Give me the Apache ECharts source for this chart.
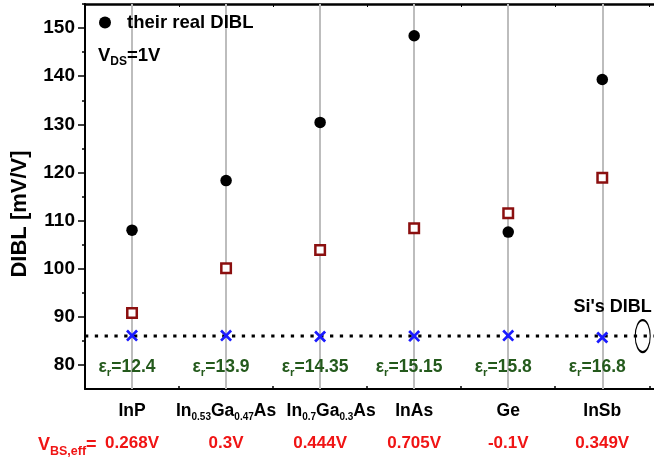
<!DOCTYPE html>
<html>
<head>
<meta charset="utf-8">
<script src="https://cdn.jsdelivr.net/npm/echarts@6/dist/echarts.min.js"></script>
<style>html,body{margin:0;padding:0;background:#fff}#c{width:654px;height:464px}</style>
</head>
<body>
<div id="c"></div>
<script>
const categories = ['InP', 'In0.53Ga0.47As', 'In0.7Ga0.3As', 'InAs', 'Ge', 'InSb'];
const realDibl = [108.0, 118.3, 130.4, 148.4, 107.6, 139.3];
const modelDibl = [90.8, 100.1, 103.9, 108.4, 111.5, 118.9];
const siDiblPoints = [86.1, 86.1, 85.9, 86.0, 86.1, 85.7];
const epsR = ['12.4', '13.9', '14.35', '15.15', '15.8', '16.8'];
const vbsEff = ['0.268V', '0.3V', '0.444V', '0.705V', '-0.1V', '0.349V'];
const siDibl = 86;
const yTicks = [80, 90, 100, 110, 120, 130, 140, 150];
const yMinorTicks = [85, 95, 105, 115, 125, 135, 145, 155];

const FONT = 'Arial, "Liberation Sans", sans-serif';
const xPos = categories.map((c, i) => i + 1);
const xMinor = categories.map((c, i) => i + 1.5);
const richName = n => n.replace(/(\d+(\.\d+)?)/g, '{s|$1}');

const chart = echarts.init(document.getElementById('c'), null, {renderer: 'canvas'});
const XMIN = 0.5, XMAX = 6.55, YMIN = 75, YMAX = 155;
const EPS_ROW = 79.6;

const option = {
  animation: false,
  backgroundColor: '#fff',
  grid: {left: 85, right: 0, top: 4, bottom: 75},
  legend: {
    data: ['their real DIBL'],
    left: 94, top: 8, z: 20,
    icon: 'circle', itemWidth: 12, itemHeight: 12,
    textStyle: {fontFamily: FONT, fontSize: 18.5, fontWeight: 'bold', color: '#000', padding: [0, 0, 0, 11]}
  },
  xAxis: [
    {
      type: 'value', position: 'bottom', min: XMIN, max: XMAX,
      axisLine: {show: true, lineStyle: {color: '#000', width: 2}},
      axisTick: {show: true, inside: true, length: 6, customValues: xPos, lineStyle: {color: '#000', width: 2}},
      splitLine: {show: false},
      axisLabel: {
        show: true, customValues: xPos, margin: 11,
        formatter: v => {
          const i = Math.round(v) - 1;
          const lead = i === 2 ? '{sp|}' : '';
          return lead + '{n|' + richName(categories[i]).replace(/\{s\|([^}]*)\}/g, '}{s|$1}{n|') + '}\n{v|' + vbsEff[i] + '}';
        },
        rich: {
          sp: {width: 22, lineHeight: 22},
          n: {fontFamily: FONT, fontSize: 17.5, fontWeight: 'bold', color: '#000', lineHeight: 22, verticalAlign: 'middle'},
          s: {fontFamily: FONT, fontSize: 10, fontWeight: 'bold', color: '#000', lineHeight: 22, verticalAlign: 'middle', padding: [12, 0, 0, 0]},
          v: {fontFamily: FONT, fontSize: 17, fontWeight: 'bold', color: '#f01414', lineHeight: 42, verticalAlign: 'middle'}
        }
      }
    },
    {
      type: 'value', position: 'bottom', min: XMIN, max: XMAX,
      axisLine: {show: false},
      axisTick: {show: true, inside: true, length: 3, customValues: xMinor, lineStyle: {color: '#000', width: 1.5}},
      axisLabel: {show: false}, splitLine: {show: false}
    },
    {
      type: 'value', position: 'top', min: XMIN, max: XMAX, interval: 0.5,
      axisLine: {show: true, lineStyle: {color: '#000', width: 2.5}},
      axisTick: {show: true, inside: true, length: 3, lineStyle: {color: '#000', width: 1}},
      axisLabel: {show: false}, splitLine: {show: false}
    }
  ],
  yAxis: [
    {
      type: 'value', position: 'left', min: YMIN, max: YMAX,
      axisLine: {show: true, lineStyle: {color: '#000', width: 2}},
      axisTick: {show: true, inside: false, length: 7, customValues: yTicks, lineStyle: {color: '#000', width: 1.5}},
      axisLabel: {show: true, customValues: yTicks, margin: 10, fontFamily: FONT, fontSize: 19, fontWeight: 'bold', color: '#000'},
      splitLine: {show: false}
    },
    {
      type: 'value', position: 'left', min: YMIN, max: YMAX,
      axisLine: {show: false},
      axisTick: {show: true, inside: false, length: 3, customValues: yMinorTicks, lineStyle: {color: '#000', width: 1.5}},
      axisLabel: {show: false}, splitLine: {show: false}
    }
  ],
  graphic: [
    {
      type: 'text', x: 20, y: 214, rotation: Math.PI / 2, z: 20,
      style: {text: 'DIBL [mV/V]', fontFamily: FONT, fontSize: 22, fontWeight: 'bold', fill: '#000', align: 'center', verticalAlign: 'middle'}
    },
    {
      type: 'text', left: 98, top: 43, z: 20,
      style: {
        text: '{a|V}{b|DS}{a|=1V}',
        rich: {
          a: {fontFamily: FONT, fontSize: 18.5, fontWeight: 'bold', fill: '#000', lineHeight: 22, verticalAlign: 'middle'},
          b: {fontFamily: FONT, fontSize: 12, fontWeight: 'bold', fill: '#000', lineHeight: 22, verticalAlign: 'middle', padding: [13, 0, 0, 0]}
        }
      }
    },
    {
      type: 'text', left: 38, top: 432, z: 20,
      style: {
        text: '{a|V}{b|BS,eff}{a|=}',
        rich: {
          a: {fontFamily: FONT, fontSize: 18, fontWeight: 'bold', fill: '#f01414', lineHeight: 22, verticalAlign: 'middle'},
          b: {fontFamily: FONT, fontSize: 12.5, fontWeight: 'bold', fill: '#f01414', lineHeight: 22, verticalAlign: 'middle', padding: [13, 0, 0, 0]}
        }
      }
    }
  ],
  series: [
    {
      name: 'grid', type: 'line', data: [], silent: true, z: 1,
      markLine: {
        silent: true, symbol: ['none', 'none'], animation: false, z: 1,
        label: {show: false},
        lineStyle: {color: '#bdbdbd', type: 'solid', width: 2},
        data: xPos.map(x => ({xAxis: x}))
      }
    },
    {
      name: 'Si', type: 'line', z: 2, symbol: 'none', silent: true,
      data: [[XMIN, siDibl], [XMAX, siDibl]],
      lineStyle: {color: '#000', width: 3, type: [3.3, 6.5]},
      markPoint: {
        symbol: 'circle', symbolSize: [15, 32],
        itemStyle: {color: 'rgba(0,0,0,0)', borderColor: '#000', borderWidth: 1.5},
        label: {
          show: true, position: 'top', distance: 3, offset: [-30, 0],
          formatter: "Si's DIBL", fontFamily: FONT, fontSize: 18, fontWeight: 'bold', color: '#000'
        },
        data: [{coord: [6.43, siDibl]}]
      }
    },
    {
      name: 'crosses', type: 'scatter', z: 5,
      data: siDiblPoints.map((v, i) => [xPos[i], v]),
      symbol: 'path://M0,1.6L1.6,0L5,3.4L8.4,0L10,1.6L6.6,5L10,8.4L8.4,10L5,6.6L1.6,10L0,8.4L3.4,5Z',
      symbolSize: 12,
      itemStyle: {color: '#1a1aff', opacity: 1}
    },
    {
      name: 'eps', type: 'scatter', z: 5, silent: true,
      data: epsR.map((v, i) => [xPos[i], EPS_ROW]),
      symbolSize: 0,
      itemStyle: {opacity: 1},
      label: {
        show: true, position: 'inside', offset: [-5, 0],
        formatter: p => '{e|ε}{r|r}{e|=' + epsR[p.dataIndex] + '}',
        rich: {
          e: {fontFamily: FONT, fontSize: 17.5, fontWeight: 'bold', color: '#245a1c', lineHeight: 22, verticalAlign: 'middle'},
          r: {fontFamily: FONT, fontSize: 11.5, fontWeight: 'bold', color: '#245a1c', lineHeight: 22, verticalAlign: 'middle', padding: [12, 0, 0, 0]}
        }
      }
    },
    {
      name: 'model', type: 'scatter', z: 5,
      data: modelDibl.map((v, i) => [xPos[i], v]),
      symbol: 'rect', symbolSize: 9.5,
      itemStyle: {color: '#fff', borderColor: '#8b0f0f', borderWidth: 2.5, opacity: 1}
    },
    {
      name: 'their real DIBL', type: 'scatter', z: 6,
      data: realDibl.map((v, i) => [xPos[i], v]),
      symbol: 'circle', symbolSize: 11.5,
      itemStyle: {color: '#000', opacity: 1}
    }
  ]
};
chart.setOption(option);
</script>
</body>
</html>
